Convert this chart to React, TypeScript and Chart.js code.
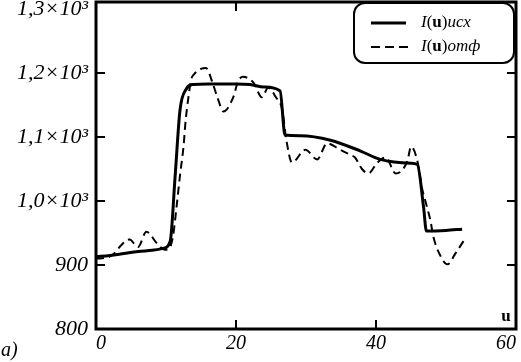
import React, { useEffect, useRef } from 'react';
import { Chart, registerables } from 'chart.js';

Chart.register(...registerables);

// ---- data ----
const uSolid = [0, 2, 4, 6, 8, 9.6, 10.6, 11.3, 12, 12.9, 13.9, 16, 18, 20, 22, 24, 26.3, 27, 29.2, 33.5, 37.8, 40.6, 45, 45.9, 46.8, 47.2, 50, 52.3];
const iSolid = [913, 915, 918, 921, 923, 926, 937, 1038, 1142, 1175, 1182, 1183, 1183, 1183, 1182, 1178, 1172, 1103, 1102, 1095, 1078, 1065, 1059, 1057, 990, 953, 954, 956];

const uDash = [0, 1.7, 2.6, 3.6, 4.8, 6, 7.2, 8.7, 9.8, 10.4, 11, 11.5, 12, 12.5, 12.8, 13.2, 13.6, 14, 15.7, 16.7, 17.4, 18.2, 19.6, 20.3, 21, 22.5, 23.7, 24.6, 25.7, 26.6, 27.2, 28, 29.9, 31.6, 33, 34.9, 36.3, 37, 38, 38.9, 40.2, 41.4, 42.8, 44.5, 45, 45.9, 46.6, 47.1, 47.8, 48.2, 49, 50.2, 51.4, 52.6];
const iDash = [910, 912, 918, 931, 940, 928, 952, 934, 924, 925, 945, 990, 1040, 1085, 1125, 1162, 1190, 1198, 1208, 1183, 1160, 1140, 1162, 1187, 1194, 1185, 1162, 1177, 1162, 1143, 1095, 1060, 1080, 1065, 1090, 1080, 1072, 1068, 1050, 1043, 1060, 1068, 1043, 1063, 1085, 1063, 1019, 998, 968, 944, 919, 901, 919, 939];

const xTicks = [0, 20, 40, 60];
const yTicks = [800, 900, 1000, 1100, 1200, 1300];
const yTickLabels = ['800', '900', '1,0×10³', '1,1×10³', '1,2×10³', '1,3×10³'];
const seriesSuffix = ['исх', 'отф'];
const axisName = 'u';
const panelLabel = 'a)';

const SERIF = '"Liberation Serif", "Times New Roman", serif';

function drawLegendText(ctx: CanvasRenderingContext2D, x: number, y: number, suffix: string) {
  const parts: [string, string][] = [
    ['I', `italic 17px ${SERIF}`],
    ['(', `17px ${SERIF}`],
    [axisName, `bold 17px ${SERIF}`],
    [')', `17px ${SERIF}`],
    [suffix, `italic 17px ${SERIF}`],
  ];
  let cx = x;
  for (const [t, f] of parts) {
    ctx.font = f;
    ctx.fillText(t, cx, y);
    cx += ctx.measureText(t).width;
  }
}

const framePlugin = {
  id: 'frameDecor',
  afterDraw(chart: any) {
    const { ctx, chartArea: a, scales } = chart;
    const top = a.top - 7;
    ctx.save();
    ctx.strokeStyle = '#000';
    ctx.fillStyle = '#000';
    ctx.lineCap = 'butt';
    const seg = (x1: number, y1: number, x2: number, y2: number) => {
      ctx.beginPath();
      ctx.moveTo(x1, y1);
      ctx.lineTo(x2, y2);
      ctx.stroke();
    };
    // inward tick marks
    ctx.lineWidth = 2;
    const L = 9;
    for (const v of yTicks) {
      if (v === yTicks[0] || v === yTicks[yTicks.length - 1]) continue;
      const y = scales.y.getPixelForValue(v);
      seg(a.left, y, a.left + L, y);
      seg(a.right, y, a.right - L, y);
    }
    for (const v of xTicks) {
      if (v === xTicks[0] || v === xTicks[xTicks.length - 1]) continue;
      const x = scales.x.getPixelForValue(v);
      seg(x, a.bottom, x, a.bottom - L);
      seg(x, top, x, top + L);
    }
    // frame
    ctx.lineWidth = 3;
    ctx.strokeRect(a.left, top, a.right - a.left, a.bottom - top);

    // legend box
    const bw = 160, bh = 60;
    const bx = a.right - 2 - bw, by = top + 1;
    ctx.lineWidth = 2;
    ctx.beginPath();
    ctx.roundRect(bx, by, bw, bh, 11);
    ctx.fillStyle = '#fff';
    ctx.fill();
    ctx.stroke();
    ctx.fillStyle = '#000';
    ctx.textBaseline = 'middle';
    ctx.textAlign = 'left';
    // solid sample
    ctx.lineWidth = 3;
    seg(bx + 17, by + 20, bx + 52, by + 20);
    drawLegendText(ctx, bx + 67, by + 20, seriesSuffix[0]);
    // dashed sample
    ctx.lineWidth = 2;
    ctx.setLineDash([9, 5]);
    seg(bx + 17, by + 44, bx + 54, by + 44);
    ctx.setLineDash([]);
    drawLegendText(ctx, bx + 67, by + 44, seriesSuffix[1]);

    // axis name inside the plot
    ctx.font = `bold 17px ${SERIF}`;
    ctx.textAlign = 'center';
    ctx.fillText(axisName, a.right - 10, a.bottom - 12);

    // panel label
    ctx.font = `italic 20px ${SERIF}`;
    ctx.textAlign = 'left';
    ctx.fillText(panelLabel, 1, 351);
    ctx.restore();
  },
};

export default function App() {
  const ref = useRef<HTMLCanvasElement | null>(null);
  useEffect(() => {
    if (!ref.current) return;
    const chart = new Chart(ref.current, {
      type: 'line',
      data: {
        datasets: [
          {
            label: 'I(u)' + seriesSuffix[0],
            data: uSolid.map((u, i) => ({ x: u, y: iSolid[i] })),
            borderColor: '#000',
            borderWidth: 3,
            pointRadius: 0,
            cubicInterpolationMode: 'monotone',
            fill: false,
          },
          {
            label: 'I(u)' + seriesSuffix[1],
            data: uDash.map((u, i) => ({ x: u, y: iDash[i] })),
            borderColor: '#000',
            borderWidth: 2,
            borderDash: [8, 5],
            pointRadius: 0,
            cubicInterpolationMode: 'monotone',
            fill: false,
          },
        ],
      },
      options: {
        responsive: false,
        animation: false,
        events: [],
        layout: { padding: { top: 9, right: 5, left: 0, bottom: 0 } },
        plugins: { legend: { display: false }, tooltip: { enabled: false } },
        scales: {
          x: {
            type: 'linear',
            min: 0,
            max: 60,
            grid: { display: false, drawTicks: false },
            border: { display: false },
            ticks: {
              stepSize: 20,
              align: 'inner',
              padding: 3,
              color: '#000',
              font: { family: SERIF, size: 20, style: 'italic' },
            },
            afterFit: (s: any) => {
              s.height = 33;
              s.paddingLeft = 0;
              s.paddingRight = 0;
            },
          },
          y: {
            type: 'linear',
            min: 800,
            max: 1300,
            grid: { display: false, drawTicks: false },
            border: { display: false },
            ticks: {
              stepSize: 100,
              padding: 8,
              color: '#000',
              font: { family: SERIF, size: 22, style: 'italic' },
              callback: (v: any) => {
                const k = yTicks.indexOf(Number(v));
                return k >= 0 ? yTickLabels[k] : '';
              },
            },
            afterFit: (s: any) => {
              s.width = 96;
              s.paddingTop = 0;
              s.paddingBottom = 0;
            },
          },
        },
      } as any,
      plugins: [framePlugin],
    });
    return () => chart.destroy();
  }, []);
  return (
    <div style={{ position: 'absolute', left: 0, top: 0, width: 521, height: 362, background: '#fff' }}>
      <canvas ref={ref} width={521} height={362} style={{ display: 'block' }} />
    </div>
  );
}
